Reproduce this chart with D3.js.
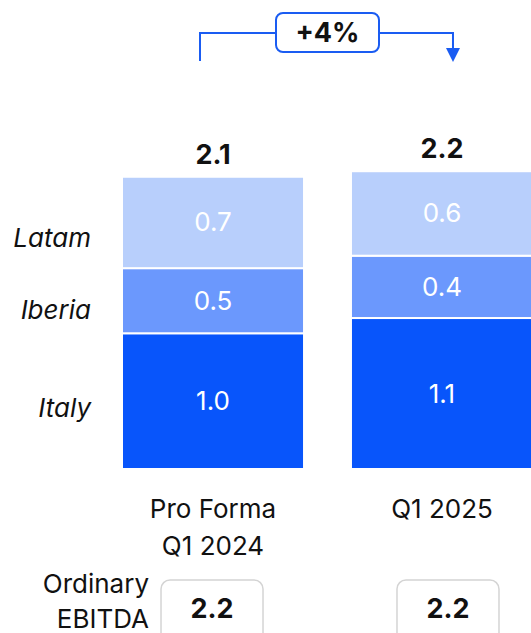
<!DOCTYPE html>
<html>
<head>
<meta charset="utf-8">
<script src="https://cdn.jsdelivr.net/npm/d3@7"></script>
<style>
  body { margin: 0; background: #fff; }
  svg { display: block; font-family: Inter, "Noto Sans", sans-serif; }
</style>
</head>
<body>
<svg id="chart" width="531" height="633"></svg>
<script>
// Data
const periods = ["Pro Forma\nQ1 2024", "Q1 2025"];
const regions = ["Italy", "Iberia", "Latam"];
const italy = [0.98, 1.09];
const iberia = [0.47, 0.45];
const latam = [0.66, 0.61];
const segLabels = { Italy: ["1.0", "1.1"], Iberia: ["0.5", "0.4"], Latam: ["0.7", "0.6"] };
const totals = ["2.1", "2.2"];
const ordinaryEbitda = ["2.2", "2.2"];
const growthLabel = "+4%";

const colors = { Italy: "#0855fb", Iberia: "#6b98fd", Latam: "#b8cffc" };
const accent = "#1a5cf2";
const ink = "#111";

const svg = d3.select("#chart");

const rows = periods.map((p, i) => ({ period: p, Italy: italy[i], Iberia: iberia[i], Latam: latam[i] }));
const stacked = d3.stack().keys(regions)(rows);

// Scales
const xScale = d3.scaleBand().domain(periods).range([122, 533]).paddingInner(0.205).paddingOuter(0);
const yScale = d3.scaleLinear().domain([0, 2.5]).range([469, 469 - 2.5 * 138.5]);
const mid = p => xScale(p) + xScale.bandwidth() / 2;

// Bars
const layer = svg.selectAll("g.layer")
  .data(stacked)
  .join("g")
  .attr("class", "layer")
  .attr("fill", d => colors[d.key]);

layer.selectAll("rect")
  .data(d => d.map(s => ({ s, key: d.key })))
  .join("rect")
  .attr("x", d => xScale(d.s.data.period))
  .attr("width", xScale.bandwidth())
  .attr("y", d => yScale(d.s[1]))
  .attr("height", d => yScale(d.s[0]) - yScale(d.s[1]))
  .attr("stroke", "#fff")
  .attr("stroke-width", 2);

// Segment labels
layer.selectAll("text")
  .data(d => d.map((s, i) => ({ s, key: d.key, i })))
  .join("text")
  .attr("x", d => mid(d.s.data.period))
  .attr("y", d => (yScale(d.s[0]) + yScale(d.s[1])) / 2 + 9)
  .attr("text-anchor", "middle")
  .attr("fill", "#fff")
  .attr("font-size", 26)
  .text(d => segLabels[d.key][d.i]);

// Totals
svg.selectAll("text.total")
  .data(periods)
  .join("text")
  .attr("class", "total")
  .attr("x", mid)
  .attr("y", (d, i) => yScale(d3.sum(regions, r => rows[i][r])) - 13)
  .attr("text-anchor", "middle")
  .attr("font-weight", "bold")
  .attr("font-size", 27)
  .attr("fill", ink)
  .text((d, i) => totals[i]);

// Region labels on the left (next to first bar)
const regionShift = { Italy: 16, Iberia: 18, Latam: 25 };
svg.selectAll("text.region")
  .data(stacked)
  .join("text")
  .attr("class", "region")
  .attr("x", 91)
  .attr("y", d => (yScale(d[0][0]) + yScale(d[0][1])) / 2 + regionShift[d.key])
  .attr("text-anchor", "end")
  .attr("font-style", "italic")
  .attr("font-size", 26)
  .attr("fill", ink)
  .text(d => d.key);

// Period labels
svg.selectAll("text.period")
  .data(periods)
  .join("text")
  .attr("class", "period")
  .attr("x", mid)
  .attr("y", 518)
  .attr("text-anchor", "middle")
  .attr("font-size", 26)
  .attr("fill", ink)
  .selectAll("tspan")
  .data(d => d.split("\n"))
  .join("tspan")
  .attr("x", function () { return this.parentNode.getAttribute("x"); })
  .attr("dy", (d, i) => i === 0 ? 0 : 37)
  .text(d => d);

// Ordinary EBITDA row
const ebitdaLabel = svg.append("text")
  .attr("x", 149)
  .attr("y", 593)
  .attr("text-anchor", "end")
  .attr("font-size", 26)
  .attr("fill", ink);
ebitdaLabel.append("tspan").attr("x", 149).text("Ordinary");
ebitdaLabel.append("tspan").attr("x", 149).attr("dy", 35).text("EBITDA");

const boxW = 102;
const boxShift = [-1, 6];
const ebitda = svg.selectAll("g.ebitda")
  .data(periods)
  .join("g")
  .attr("class", "ebitda")
  .attr("transform", (d, i) => `translate(${mid(d) - boxW / 2 + boxShift[i]},580)`);

ebitda.append("rect")
  .attr("width", boxW)
  .attr("height", 70)
  .attr("rx", 9)
  .attr("fill", "#fff")
  .attr("stroke", "#d4d4d4")
  .attr("stroke-width", 1.5);

ebitda.append("text")
  .attr("x", boxW / 2)
  .attr("y", 38)
  .attr("text-anchor", "middle")
  .attr("font-weight", "bold")
  .attr("font-size", 27)
  .attr("fill", ink)
  .text((d, i) => ordinaryEbitda[i]);

// Growth bracket
const x0 = xScale(periods[0]) + 78;
const x1 = mid(periods[1]) + 11;
const lineY = 33;
const gBox = { x: 276, w: 103, y: 13, h: 39 };

svg.append("path")
  .attr("d", `M${x0},61V${lineY}H${gBox.x}M${gBox.x + gBox.w},${lineY}H${x1}V50`)
  .attr("fill", "none")
  .attr("stroke", accent)
  .attr("stroke-width", 2);

svg.append("path")
  .attr("d", `M${x1 - 7},48L${x1 + 7},48L${x1},62Z`)
  .attr("fill", accent);

svg.append("rect")
  .attr("x", gBox.x)
  .attr("y", gBox.y)
  .attr("width", gBox.w)
  .attr("height", gBox.h)
  .attr("rx", 7)
  .attr("fill", "#fff")
  .attr("stroke", accent)
  .attr("stroke-width", 2);

svg.append("text")
  .attr("x", gBox.x + gBox.w / 2)
  .attr("y", gBox.y + 29)
  .attr("text-anchor", "middle")
  .attr("font-weight", "bold")
  .attr("font-size", 27)
  .attr("fill", ink)
  .text(growthLabel);
</script>
</body>
</html>
